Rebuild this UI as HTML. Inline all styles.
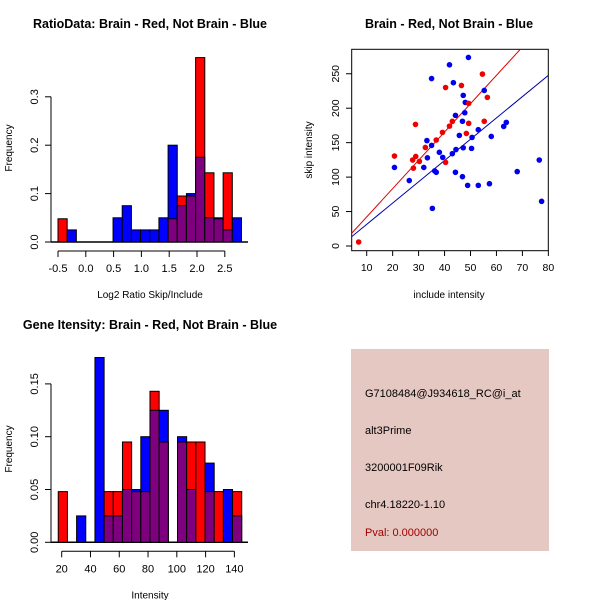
<!DOCTYPE html>
<html><head><meta charset="utf-8">
<style>
html,body{margin:0;padding:0;background:#fff;}
svg{display:block;font-family:"Liberation Sans",sans-serif;}
</style></head>
<body>
<svg id="fig" width="600" height="600" viewBox="0 0 600 600">
<rect x="0" y="0" width="600" height="600" fill="#fff"/>
<g id="p1"></g>
<g id="p2"></g>
<g id="p3"></g>
<g id="p4">
<rect x="351" y="349" width="198" height="202" fill="#e6c8c2"/>
<text x="365" y="397" font-size="11" fill="#000">G7108484@J934618_RC@i_at</text>
<text x="365" y="434" font-size="11" fill="#000">alt3Prime</text>
<text x="365" y="471" font-size="11" fill="#000">3200001F09Rik</text>
<text x="365" y="508" font-size="11" fill="#000">chr4.18220-1.10</text>
<text x="365" y="536" font-size="11" fill="#a00000">Pval: 0.000000</text>
</g>
</svg>
<script>
// ---- Ratio histogram data ----
const ratioBlue = [0,0.025,0,0,0,0,0.05,0.075,0.025,0.025,0.025,0.05,0.2,0.075,0.1,0.175,0.05,0.05,0.025,0.05];
const ratioRed  = [0.048,0,0,0,0,0,0,0,0,0,0,0,0.048,0.095,0.095,0.381,0.143,0.048,0.143,0];
const ratioXTicks = [-0.5,0.0,0.5,1.0,1.5,2.0,2.5];
const ratioYTicks = [0.0,0.1,0.2,0.3];
// ---- Gene intensity histogram data ----
const intBlue = [0,0,0.025,0,0.175,0.025,0.025,0.05,0.05,0.1,0.125,0.125,0,0.1,0.05,0,0.075,0,0.05,0.025];
const intRed  = [0.048,0,0,0,0,0.048,0.048,0.095,0.048,0.048,0.143,0.095,0,0.095,0.095,0.095,0.048,0.048,0,0.048];
const intXTicks = [20,40,60,80,100,120,140];
const intYTicks = [0.00,0.05,0.10,0.15];
// ---- Scatter data ----
const redX = [6.9,20.7,28.8,27.7,28,28.9,30.3,32.6,36.8,39.2,40.4,40.4,41.9,43,46.5,48.4,49.3,49.3,54.6,55.3,56.5];
const redY = [5.8,130.6,176.5,124.8,113,130,122.8,143,153.8,164.9,230,121.4,174,180.9,233,163.4,207,178,249.5,181,215.7];
const blueX = [20.7,26.4,35,33.4,32,33.2,35,35.3,36.2,36.8,38,39.3,41.9,43,43.4,44.2,44.4,44.2,45.7,46.9,46.9,47.2,47.2,47.8,48,48.9,49.2,50.4,50.6,53,53,55.3,57.3,58,62.8,63.8,68,76.5,77.4];
const blueY = [114,95,243,128,114,153,146,54.6,109,107,136,128.6,263,134,237,189.6,140,107,160.5,100.6,181,218.6,142.6,193.4,208.4,88,273.7,141.7,157.6,168.8,88,225.8,90.4,159,173.6,179.4,108,124.8,64.8];
const fitSlope = [4.11, 3.09];      // red, blue
const fitIntercept = [1.1, 0.5];
const scXTicks = [10,20,30,40,50,60,70,80];
const scYTicks = [0,50,100,150,200,250];

const NS = "http://www.w3.org/2000/svg";
function mk(parent, tag, attrs){
  const e = document.createElementNS(NS, tag);
  for (const k in attrs) e.setAttribute(k, attrs[k]);
  parent.appendChild(e);
  return e;
}
function txt(parent, x, y, s, opts){
  const t = mk(parent, "text", Object.assign({x:x, y:y, "font-size":11, fill:"#000", "text-anchor":"middle"}, opts||{}));
  t.textContent = s;
  return t;
}

function histogram(g, cfg){
  const xs = v => cfg.x0px + (v - cfg.x0) * cfg.xscale;
  const ys = v => cfg.base - v * cfg.yscale;
  // title
  const ti = txt(g, cfg.titleX, cfg.titleY, cfg.title, {"font-weight":"bold","font-size":12.5});
  
  
  // baseline
  const bl = mk(g, "line", {x1:51, x2:cfg.baseEnd, y1:cfg.base, y2:cfg.base, stroke:"#000", "stroke-width":1.5});
  
  
  for (let i = 0; i < cfg.blue.length; i++){
    const b = cfg.blue[i], r = cfg.red[i];
    const x1 = xs(cfg.binStart + i * cfg.binW), x2 = xs(cfg.binStart + (i+1) * cfg.binW);
    const hi = Math.max(b, r), lo = Math.min(b, r);
    if (hi > 0){
      const col = b >= r ? "#0000ff" : "#ff0000";
      const bar = mk(g, "rect", {x:x1, y:ys(hi), width:x2-x1, height:ys(0)-ys(hi), fill:col, stroke:"#000", "stroke-width":1});
      
      
    }
    if (lo > 0){
      const ov = mk(g, "rect", {x:x1, y:ys(lo), width:x2-x1, height:ys(0)-ys(lo), fill:"#7f007f", stroke:"#000", "stroke-width":1});
      
      
    }
  }
  // y axis
  const yt = cfg.yTicks;
  const ya = mk(g, "line", {x1:51, x2:51, y1:ys(yt[0]), y2:ys(yt[yt.length-1]), stroke:"#000"});
  
  
  yt.forEach(v => {
    mk(g, "line", {x1:45, x2:51, y1:ys(v), y2:ys(v), stroke:"#000"});
    const t = txt(g, 0, 0, v.toFixed(cfg.yDec), {transform:`translate(38,${ys(v)}) rotate(-90)`});
    
    
  });
  // x axis
  const xt = cfg.xTicks;
  const xa = mk(g, "line", {x1:xs(xt[0]), x2:xs(xt[xt.length-1]), y1:cfg.base+9, y2:cfg.base+9, stroke:"#000"});
  
  
  xt.forEach(v => {
    mk(g, "line", {x1:xs(v), x2:xs(v), y1:cfg.base+9, y2:cfg.base+15, stroke:"#000"});
    const t = txt(g, xs(v), cfg.base+30, cfg.xDec >= 0 ? v.toFixed(cfg.xDec) : String(v));
    
    
  });
  const xl = txt(g, cfg.xLabelX, cfg.base+56, cfg.xLabel, {"font-size":10});
  
  
  const yl = txt(g, 0, 0, "Frequency", {"font-size":10, transform:`translate(12,${cfg.yLabelY}) rotate(-90)`});
  
  
}

histogram(document.getElementById("p1"), {
  title:"RatioData: Brain - Red, Not Brain - Blue", titleX:150, titleY:28,
  blue:ratioBlue, red:ratioRed, binStart:-0.5, binW:0.165,
  x0:-0.5, x0px:58, xscale:55.6, base:242, yscale:484, baseEnd:248,
  xTicks:ratioXTicks, yTicks:ratioYTicks, yDec:1, xDec:1,
  xLabel:"Log2 Ratio Skip/Include", xLabelX:150, yLabelY:148
});
histogram(document.getElementById("p3"), {
  title:"Gene Itensity: Brain - Red, Not Brain - Blue", titleX:150, titleY:329,
  blue:intBlue, red:intRed, binStart:17.6, binW:6.375,
  x0:20, x0px:61.7, xscale:1.439, base:542.3, yscale:1056, baseEnd:248,
  xTicks:intXTicks, yTicks:intYTicks, yDec:2, xDec:-1,
  xLabel:"Intensity", xLabelX:150, yLabelY:449
});

// ---- Scatter ----
(function(){
  const g = document.getElementById("p2");
  const xs = v => 366.7 + (v - 10) * 2.595;
  const ys = v => 246 - v * 0.689;
  const ti = txt(g, 449, 28, "Brain - Red, Not Brain - Blue", {"font-weight":"bold","font-size":12.5});
  
  
  const box = mk(g, "rect", {x:351.7, y:49.3, width:196.6, height:201.4, fill:"none", stroke:"#000"});
  
  
  mk(g, "clipPath", {id:"scClip"}).appendChild(document.createElementNS(NS,"rect"));
  const cr = g.querySelector("#scClip rect");
  cr.setAttribute("x",351.7); cr.setAttribute("y",49.3); cr.setAttribute("width",196.6); cr.setAttribute("height",201.4);
  const xmin = (351.7-366.7)/2.595+10, xmax = (548.3-366.7)/2.595+10;
  const cols = ["#dd0000","#0000aa"];
  for (let k = 0; k < 2; k++){
    const ln = mk(g, "line", {x1:xs(xmin), y1:ys(fitIntercept[k]+fitSlope[k]*xmin), x2:xs(xmax), y2:ys(fitIntercept[k]+fitSlope[k]*xmax), stroke:cols[k], "stroke-width":1, "clip-path":"url(#scClip)"});
    
    
  }
  for (let i = 0; i < blueX.length; i++){
    const c = mk(g, "circle", {cx:xs(blueX[i]), cy:ys(blueY[i]), r:2.8, fill:"#0000ee"});
    
    
  }
  for (let i = 0; i < redX.length; i++){
    const c = mk(g, "circle", {cx:xs(redX[i]), cy:ys(redY[i]), r:2.8, fill:"#ee0000"});
    
    
  }
  scXTicks.forEach(v => {
    mk(g, "line", {x1:xs(v), x2:xs(v), y1:250.7, y2:256, stroke:"#000"});
    const t = txt(g, xs(v), 271, String(v), {"font-size":10.5});
    
    
  });
  scYTicks.forEach(v => {
    mk(g, "line", {x1:346, x2:351.7, y1:ys(v), y2:ys(v), stroke:"#000"});
    const t = txt(g, 0, 0, String(v), {"font-size":10.5, transform:`translate(339,${ys(v)}) rotate(-90)`});
    
    
  });
  const xl = txt(g, 449, 298, "include intensity", {"font-size":10});
  
  
  const yl = txt(g, 0, 0, "skip intensity", {"font-size":10, transform:"translate(312,150) rotate(-90)"});
  
  
})();
</script>
</body></html>
